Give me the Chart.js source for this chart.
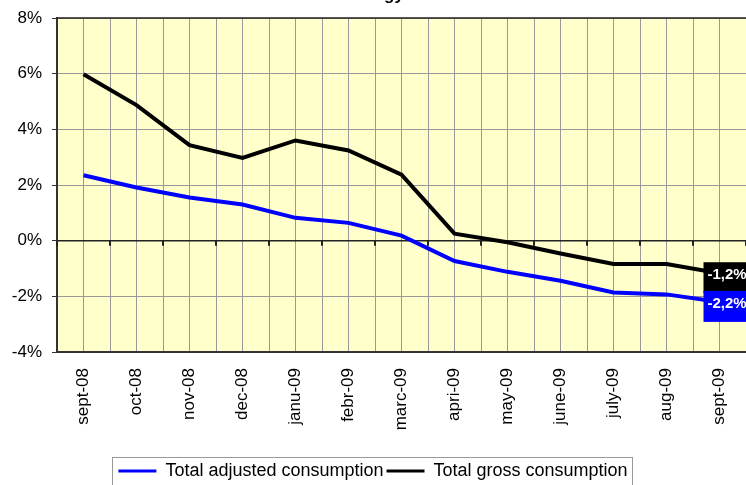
<!DOCTYPE html>
<html>
<head>
<meta charset="utf-8">
<script src="https://cdn.jsdelivr.net/npm/chart.js@4.4.1/dist/chart.umd.min.js"></script>
<style>
    html, body { margin: 0; padding: 0; background: #fff; }
    #wrap { width: 746px; height: 485px; }
</style>
</head>
<body>
<div id="wrap"><canvas id="chart-consumption" width="746" height="485"></canvas></div>
<script>
// Months on the x axis
var months = ['sept-08', 'oct-08', 'nov-08', 'dec-08', 'janu-09', 'febr-09', 'marc-09',
              'apri-09', 'may-09', 'june-09', 'july-09', 'aug-09', 'sept-09'];

// 12 month change in %
var adjustedConsumption = [2.35, 1.91, 1.55, 1.30, 0.82, 0.64, 0.18, -0.73, -1.12, -1.44, -1.86, -1.93, -2.20];
var grossConsumption = [5.98, 4.87, 3.43, 2.97, 3.60, 3.24, 2.37, 0.25, -0.06, -0.46, -0.84, -0.84, -1.17];

var yTicks = [-4, -2, 0, 2, 4, 6, 8];
var chartTitle = 'Total energy';

// Yellow plot area
var plotBackground = {
    id: 'plotBackground',
    beforeDraw: function(chart) {
        var a = chart.chartArea, ctx = chart.ctx;
        ctx.save();
        ctx.fillStyle = '#FFFFCC';
        ctx.fillRect(a.left, a.top, a.right - a.left, a.bottom - a.top);
        ctx.restore();
    }
};

// Zero line with small ticks between the months (Excel style), plus top border
var zeroAxis = {
    id: 'zeroAxis',
    beforeDatasetsDraw: function(chart) {
        var x = chart.scales.x, a = chart.chartArea, ctx = chart.ctx;
        var y0 = chart.scales.y.getPixelForValue(0);
        ctx.save();
        ctx.strokeStyle = '#222';
        ctx.lineWidth = 1.5;
        ctx.beginPath();
        ctx.moveTo(a.left, y0);
        ctx.lineTo(a.right, y0);
        ctx.moveTo(a.left, a.top);
        ctx.lineTo(a.right, a.top);
        ctx.stroke();
        ctx.lineWidth = 2;
        ctx.beginPath();
        for (var i = 0; i <= months.length; i++) {
            var px = x.getPixelForValue(i - 0.5);
            ctx.moveTo(px, y0);
            ctx.lineTo(px, y0 + 5);
        }
        ctx.stroke();
        ctx.restore();
    }
};

// Value boxes at the last point of each line
var endLabels = {
    id: 'endLabels',
    afterDatasetsDraw: function(chart) {
        var ctx = chart.ctx;
        ctx.save();
        ctx.font = 'bold 15px Arial';
        ctx.textBaseline = 'middle';
        [1, 0].forEach(function(i) {
            var ds = chart.data.datasets[i];
            var meta = chart.getDatasetMeta(i);
            var last = ds.data.length - 1;
            var pt = meta.data[last];
            var txt = ds.data[last].y.toFixed(1).replace('.', ',') + '%';
            ctx.fillStyle = ds.borderColor;
            ctx.fillRect(pt.x - 16, pt.y - 11, 60, 31);
            ctx.fillStyle = '#fff';
            ctx.fillText(txt, pt.x - 12, pt.y + 2);
        });
        ctx.restore();
    }
};

// Title sits above the canvas, only its descenders show
var cutTitle = {
    id: 'cutTitle',
    afterDraw: function(chart) {
        var ctx = chart.ctx;
        ctx.save();
        ctx.font = 'bold 17px Arial';
        ctx.fillStyle = '#000';
        ctx.textBaseline = 'alphabetic';
        var left = 384 - ctx.measureText('Total ener').width;
        ctx.fillText(chartTitle, left, 0);
        ctx.restore();
    }
};

// Border round the legend
var legendBorder = {
    id: 'legendBorder',
    afterDraw: function(chart) {
        var boxes = chart.legend.legendHitBoxes;
        if (!boxes || !boxes.length) return;
        var left = Math.min.apply(null, boxes.map(function(b) { return b.left; })) - 6;
        var right = Math.max.apply(null, boxes.map(function(b) { return b.left + b.width; })) + 5;
        var top = boxes[0].top - 5;
        var ctx = chart.ctx;
        ctx.save();
        ctx.strokeStyle = '#999';
        ctx.lineWidth = 1;
        ctx.strokeRect(Math.round(left) + 0.5, Math.round(top) + 0.5, Math.round(right - left), chart.height - top + 5);
        ctx.restore();
    }
};

var ctx = document.getElementById('chart-consumption').getContext('2d');

new Chart(ctx, {
    type: 'line',
    data: {
        datasets: [{
            label: 'Total adjusted consumption',
            data: adjustedConsumption.map(function(v, i) { return { x: i, y: v }; }),
            borderColor: '#0000FF',
            backgroundColor: '#0000FF',
            borderWidth: 4,
            pointRadius: 0,
            tension: 0
        }, {
            label: 'Total gross consumption',
            data: grossConsumption.map(function(v, i) { return { x: i, y: v }; }),
            borderColor: '#000000',
            backgroundColor: '#000000',
            borderWidth: 4,
            pointRadius: 0,
            tension: 0
        }]
    },
    options: {
        responsive: false,
        animation: false,
        layout: { padding: { top: 18, right: 0, left: 0, bottom: -5 } },
        plugins: {
            title: { display: false },
            tooltip: { enabled: false },
            legend: {
                position: 'bottom',
                labels: {
                    usePointStyle: true,
                    pointStyle: 'line',
                    pointStyleWidth: 38,
                    color: '#000',
                    padding: 3,
                    font: { family: 'Arial', size: 18 },
                    generateLabels: function(chart) {
                        var items = Chart.defaults.plugins.legend.labels.generateLabels(chart);
                        items.forEach(function(it) { it.lineWidth = 3; });
                        return items;
                    }
                }
            }
        },
        scales: {
            x: {
                type: 'linear',
                min: -0.5,
                max: 12.5,
                afterBuildTicks: function(axis) {
                    var t = [];
                    for (var i = 0; i <= months.length * 2; i++) t.push({ value: -0.5 + i / 2 });
                    axis.ticks = t;
                },
                afterFit: function(scale) {
                    scale.height = 107;
                    scale.paddingLeft = 0;
                    scale.paddingRight = 0;
                },
                border: { color: '#333', width: 2 },
                grid: { color: '#999', lineWidth: 1, drawTicks: false },
                ticks: {
                    autoSkip: false,
                    maxRotation: 90,
                    minRotation: 90,
                    padding: 16,
                    color: '#000',
                    font: { family: 'Arial', size: 17 },
                    callback: function(value) {
                        return Number.isInteger(value) ? months[value] : '';
                    }
                }
            },
            y: {
                min: yTicks[0],
                max: yTicks[yTicks.length - 1],
                afterBuildTicks: function(axis) {
                    axis.ticks = yTicks.map(function(v) { return { value: v }; });
                },
                afterFit: function(scale) {
                    scale.width = 57;
                    scale.paddingTop = 0;
                    scale.paddingBottom = 0;
                },
                border: { color: '#333', width: 2 },
                grid: { color: '#999', tickColor: '#333', tickLength: 5, lineWidth: 1 },
                ticks: {
                    padding: 10,
                    color: '#000',
                    font: { family: 'Arial', size: 17 },
                    callback: function(v) { return v + '%'; }
                }
            }
        }
    },
    plugins: [plotBackground, zeroAxis, endLabels, cutTitle, legendBorder]
});
</script>
</body>
</html>
